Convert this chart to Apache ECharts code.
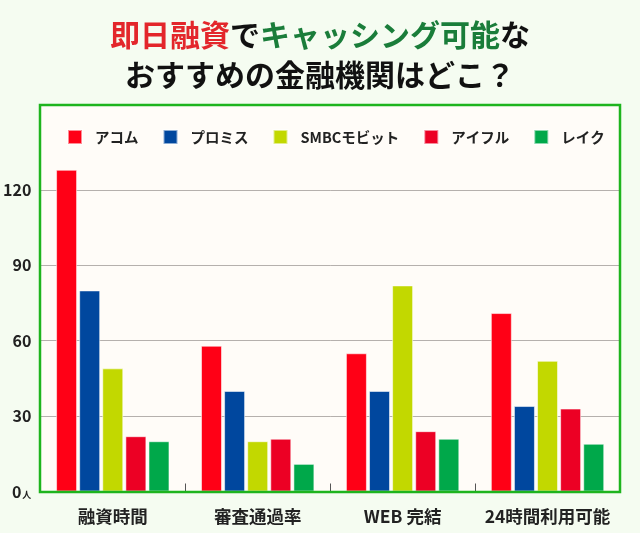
<!DOCTYPE html>
<html>
<head>
<meta charset="utf-8">
<script src="https://cdn.jsdelivr.net/npm/echarts@6/dist/echarts.min.js"></script>
<style>
html,body{margin:0;padding:0;background:#f5fcf1;}
#chart{width:640px;height:533px;}
</style>
</head>
<body>
<div id="chart"></div>
<script>
const categories = ['融資時間', '審査通過率', 'WEB 完結', '24時間利用可能'];
const seriesNames = ['アコム', 'プロミス', 'SMBCモビット', 'アイフル', 'レイク'];
const acom = [128, 58, 55, 71];
const promise = [80, 40, 40, 34];
const smbc = [49, 20, 82, 52];
const aiful = [22, 21, 24, 33];
const lake = [20, 11, 21, 19];
const yTicks = [0, 30, 60, 90, 120];

const colors = ['#ff0016', '#00479e', '#c2d800', '#ec0024', '#00a84a'];
const values = [acom, promise, smbc, aiful, lake];
const FONT = '"Noto Sans CJK JP", "Noto Sans", sans-serif';

const chart = echarts.init(document.getElementById('chart'));
chart.setOption({
  backgroundColor: '#f5fcf1',
  animation: false,
  textStyle: { fontFamily: FONT },
  title: {
    left: 'center',
    top: 10,
    text: '{r|即日融資}{k|で}{g|キャッシング可能}{k|な}\n{k|おすすめの金融機関はどこ？}',
    textStyle: {
      rich: {
        r: { color: '#e3262b', fontSize: 30, fontWeight: 'bold', fontFamily: FONT, lineHeight: 40 },
        g: { color: '#1a7d3a', fontSize: 30, fontWeight: 'bold', fontFamily: FONT, lineHeight: 40 },
        k: { color: '#111', fontSize: 30, fontWeight: 'bold', fontFamily: FONT, lineHeight: 40 }
      }
    }
  },
  graphic: [
    { type: 'rect', z: -10, silent: true, shape: { x: 40, y: 105, width: 580, height: 387 },
      style: { fill: '#fffcf8' } },
    { type: 'rect', z: 100, silent: true, shape: { x: 40, y: 105, width: 580, height: 387 },
      style: { fill: 'none', stroke: '#1eb41e', lineWidth: 2.5 } }
  ],
  legend: {
    left: 62,
    top: 124,
    itemWidth: 14,
    itemHeight: 14,
    itemGap: 24,
    icon: 'rect',
    data: seriesNames,
    formatter: '{t|{name}}',
    textStyle: {
      rich: {
        t: { fontSize: 14.5, fontWeight: 'bold', color: '#222', fontFamily: FONT, padding: [0, 0, 0, 8] }
      }
    }
  },
  grid: { left: 40, right: 20, top: 114.5, bottom: 41.5, containLabel: false },
  xAxis: {
    type: 'category',
    data: categories,
    axisLine: { show: false },
    axisTick: { show: true, interval: 0, inside: true, length: 8, lineStyle: { color: '#555', width: 1 } },
    axisLabel: { interval: 0, margin: 16, fontSize: 17.5, fontWeight: 'bold', color: '#222', fontFamily: FONT }
  },
  yAxis: {
    type: 'value',
    min: 0,
    max: 150,
    interval: 30,
    axisLine: { show: false },
    axisTick: { show: false },
    splitLine: { show: true, showMinLine: false, showMaxLine: false, lineStyle: { color: '#b5b0ad', width: 1 } },
    axisLabel: {
      margin: 9,
      showMaxLabel: false,
      color: '#222',
      formatter: function (v) {
        if (yTicks.indexOf(v) < 0) return '';
        return v === 0 ? '{a|0}{b|人}' : '{a|' + v + '}';
      },
      rich: {
        a: { fontSize: 16, fontWeight: 'bold', color: '#222', fontFamily: FONT },
        b: { fontSize: 9, fontWeight: 'bold', color: '#222', fontFamily: FONT, verticalAlign: 'bottom', padding: [6, 0, 0, 1] }
      }
    }
  },
  series: seriesNames.map(function (name, i) {
    return {
      name: name,
      type: 'bar',
      data: values[i],
      barWidth: 21,
      barGap: '10%',
      itemStyle: { color: colors[i], borderColor: 'rgba(255,255,255,0.55)', borderWidth: 1 }
    };
  })
});
</script>
</body>
</html>
